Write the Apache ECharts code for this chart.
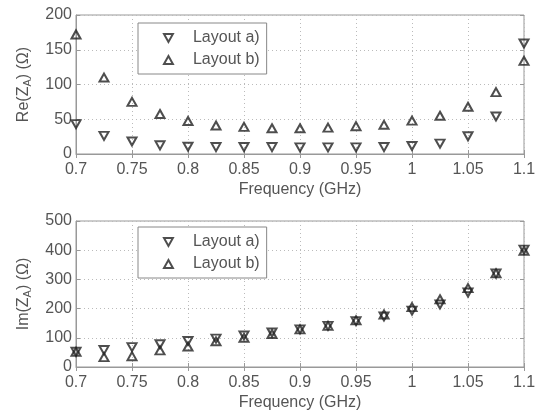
<!DOCTYPE html>
<html>
<head>
<meta charset="utf-8">
<script src="https://cdn.jsdelivr.net/npm/echarts@6/dist/echarts.min.js"></script>
<style>
  html, body { margin: 0; padding: 0; background: #fff; }
  #chart { width: 543px; height: 412px; }
</style>
</head>
<body>
<div id="chart"></div>
<script>
// frequency points (GHz)
const freq = [0.7, 0.725, 0.75, 0.775, 0.8, 0.825, 0.85, 0.875, 0.9, 0.925, 0.95, 0.975, 1.0, 1.025, 1.05, 1.075, 1.1];
// Re(Z_A) in ohm
const reA = [43, 26, 18, 12.5, 10.5, 10, 10, 10, 9.5, 9.5, 9.5, 10, 11.5, 15, 25.5, 54, 159];
const reB = [172, 110, 75, 57.5, 47.5, 41, 39, 37, 37, 38, 40, 42, 48, 55, 68, 89, 134];
// Im(Z_A) in ohm
const imA = [52, 58, 68, 78, 89, 97, 108, 118, 129, 141, 157, 173, 193, 214, 255, 320, 402];
const imB = [52, 34, 37, 57, 70, 88, 100, 113, 129, 141, 160, 180, 205, 232, 270, 321, 398];
const legendNames = ['Layout a)', 'Layout b)'];

const chart = echarts.init(document.getElementById('chart'));

const font = 'Liberation Sans, Arial, sans-serif';
const textColor = '#555';
const frameColor = '#999';
const markColor = '#222';
const gridTop = { left: 76, top: 15, width: 448, height: 139, show: true, borderColor: frameColor, borderWidth: 1 };
const gridBottom = { left: 76, top: 221, width: 448, height: 146, show: true, borderColor: frameColor, borderWidth: 1 };

const fmtFreq = v => String(Math.round(v * 100) / 100);
const pairs = ys => freq.map((f, i) => [f, ys[i]]);

function xAxisMain(gridIndex) {
  return {
    type: 'value', gridIndex, min: 0.7, max: 1.1, interval: 0.05,
    name: 'Frequency (GHz)', nameLocation: 'middle', nameGap: 28,
    nameTextStyle: { color: textColor, fontSize: 16, fontFamily: font },
    axisLine: { show: true, lineStyle: { color: frameColor } },
    axisTick: { show: true, inside: true, length: 4, lineStyle: { color: frameColor } },
    axisLabel: { color: textColor, fontSize: 16, fontFamily: font, margin: 8, formatter: fmtFreq },
    splitLine: { show: true, lineStyle: { color: '#bbb', type: [1, 3] } }
  };
}
function xAxisMirror(gridIndex) {
  return {
    type: 'value', gridIndex, min: 0.7, max: 1.1, interval: 0.05, position: 'top',
    axisLine: { show: false },
    axisTick: { show: true, inside: true, length: 4, lineStyle: { color: frameColor } },
    axisLabel: { show: false },
    splitLine: { show: false }
  };
}
function yAxisMain(gridIndex, max, interval, sym) {
  return {
    type: 'value', gridIndex, min: 0, max, interval,
    name: '{n|' + sym + '(Z}{s|A}{n|) (Ω)}', nameLocation: 'middle', nameGap: 43,
    nameTextStyle: {
      color: textColor, fontFamily: font,
      rich: {
        n: { fontSize: 16, color: textColor, fontFamily: font },
        s: { fontSize: 11, color: textColor, fontFamily: font, verticalAlign: 'bottom', padding: [8, 0, 0, 0] }
      }
    },
    axisLine: { show: true, lineStyle: { color: frameColor } },
    axisTick: { show: true, inside: true, length: 4, lineStyle: { color: frameColor } },
    axisLabel: { color: textColor, fontSize: 16, fontFamily: font, margin: 4 },
    splitLine: { show: true, lineStyle: { color: '#bbb', type: [1, 3] } }
  };
}
function yAxisMirror(gridIndex, max, interval) {
  return {
    type: 'value', gridIndex, min: 0, max, interval, position: 'right',
    axisLine: { show: false },
    axisTick: { show: true, inside: true, length: 4, lineStyle: { color: frameColor } },
    axisLabel: { show: false },
    splitLine: { show: false }
  };
}

const markerStyle = { color: 'rgba(255,255,255,0)', borderColor: markColor, borderWidth: 2 };
function scatter(name, data, xIdx, yIdx, down) {
  return {
    name, type: 'scatter', data, xAxisIndex: xIdx, yAxisIndex: yIdx,
    symbol: 'triangle', symbolSize: [9, 8], symbolRotate: down ? 180 : 0,
    itemStyle: markerStyle, clip: false, z: 5
  };
}

const downIcon = 'path://M0,0 L10,0 L5,9 Z';
const upIcon = 'path://M5,0 L10,9 L0,9 Z';
function legendBox(top) {
  return {
    data: [{ name: legendNames[0], icon: downIcon }, { name: legendNames[1], icon: upIcon }],
    orient: 'vertical', left: 138, top,
    padding: [7, 7, 6, 25], itemGap: 6, itemWidth: 9, itemHeight: 8,
    borderColor: '#888', borderWidth: 1, backgroundColor: '#fff',
    itemStyle: markerStyle,
    textStyle: { color: textColor, fontSize: 16, fontFamily: font, padding: [0, 0, 0, 15] },
    selectedMode: false
  };
}

chart.setOption({
  animation: false,
  backgroundColor: '#fff',
  legend: [legendBox(23), legendBox(227)],
  grid: [gridTop, gridBottom],
  xAxis: [xAxisMain(0), xAxisMirror(0), xAxisMain(1), xAxisMirror(1)],
  yAxis: [
    yAxisMain(0, 200, 50, 'Re'), yAxisMirror(0, 200, 50),
    yAxisMain(1, 500, 100, 'Im'), yAxisMirror(1, 500, 100)
  ],
  series: [
    scatter(legendNames[0], pairs(reA), 0, 0, true),
    scatter(legendNames[1], pairs(reB), 0, 0, false),
    scatter(legendNames[0], pairs(imA), 2, 2, true),
    scatter(legendNames[1], pairs(imB), 2, 2, false)
  ]
});
</script>
</body>
</html>
